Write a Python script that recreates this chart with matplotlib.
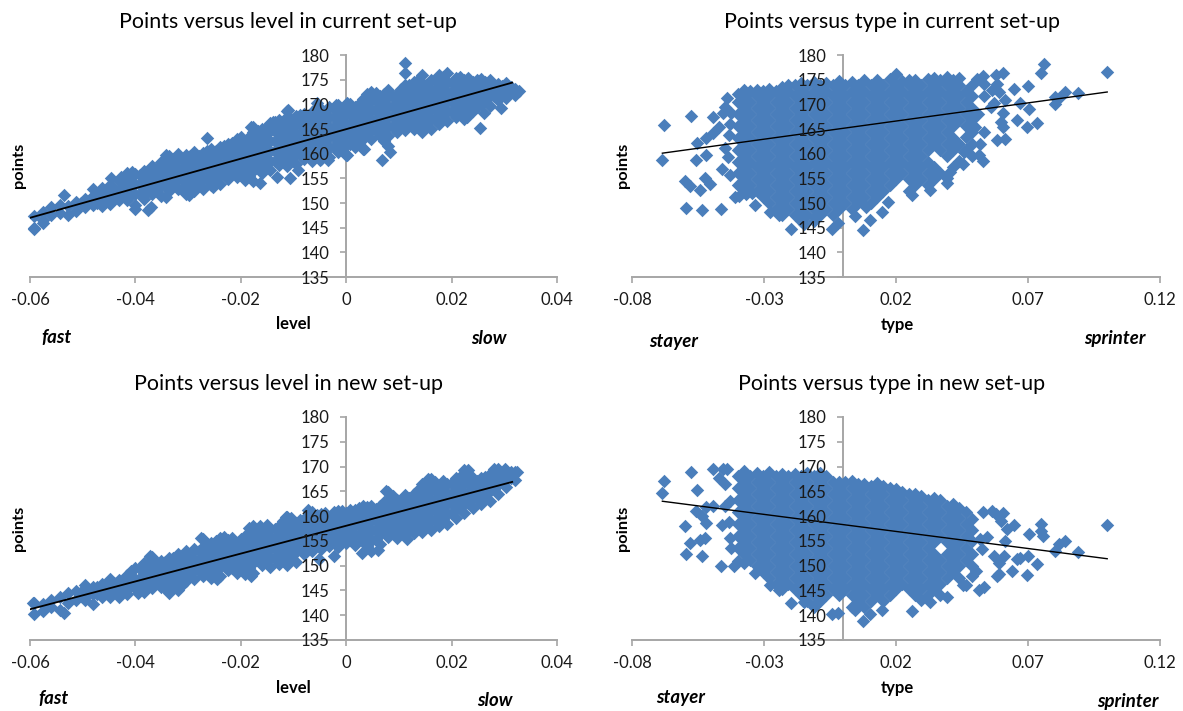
import matplotlib
matplotlib.use("Agg")
import matplotlib.pyplot as plt

W, H = 1183, 711
BLUE = "#4A7EBB"
GREY = "#A6A6A6"
plt.rcParams["font.family"] = ["Lato", "DejaVu Sans"]

y_ticks = [135, 140, 145, 150, 155, 160, 165, 170, 175, 180]
level_ticks = [-0.06, -0.04, -0.02, 0, 0.02, 0.04]
level_labels = ["-0.06", "-0.04", "-0.02", "0", "0.02", "0.04"]
type_ticks = [-0.08, -0.03, 0.02, 0.07, 0.12]
type_labels = ["-0.08", "-0.03", "0.02", "0.07", "0.12"]

# ---- Points versus level, current set-up: column x positions and the y values in each
lc_x = [-0.0592,-0.0576,-0.0560,-0.0544,-0.0528,-0.0512,-0.0496,-0.0480,-0.0464,-0.0448,-0.0432,-0.0416,-0.0400,
        -0.0384,-0.0368,-0.0352,-0.0336,-0.0320,-0.0304,-0.0288,-0.0272,-0.0256,-0.0240,-0.0224,-0.0208,-0.0192,
        -0.0176,-0.0160,-0.0144,-0.0128,-0.0112,-0.0096,-0.0080,-0.0064,-0.0048,-0.0032,-0.0016,0.0,0.0016,0.0032,
        0.0048,0.0064,0.0080,0.0096,0.0112,0.0128,0.0144,0.0160,0.0176,0.0192,0.0208,0.0224,0.0240,0.0256,0.0272,
        0.0288,0.0304,0.0320]
lc_y = [[145.0,147.3],[146.5,148.1],[147.5,149.2],[148.0,149.6],[147.6,149.4],[148.4,150.2],[149.2,150.9],
        [149.6,151.4,152.8],[149.4,151.2,153.0],[149.8,151.8,153.6],[150.6,152.5,154.4],[150.6,152.6,154.6,156.0],
        [149.6,151.8,153.8,155.8],[150.9,152.9,154.9,156.4],[151.8,153.9,155.9,157.6],[151.4,153.5,155.5,157.5,158.4],
        [152.5,154.5,156.5,158.5,159.6],[152.8,154.9,156.9,158.9,160.0],[151.8,153.8,155.8,157.8,159.8],
        [152.5,154.5,156.5,158.5,160.3],[152.8,154.8,156.8,158.8,160.2],[153.6,155.6,157.6,159.6,161.0],
        [153.8,155.9,157.9,159.9,161.4],[154.8,156.8,158.8,160.8,162.0],[155.2,157.2,159.2,161.2,162.9],
        [154.6,156.6,158.6,160.6,162.6],[154.4,156.4,158.4,160.4,162.4,164.4,165.4],[156.0,158.0,160.0,162.0,164.0,165.0],
        [156.6,158.6,160.6,162.6,164.6,166.2],[157.8,159.8,161.8,163.8,165.8,166.8],[157.4,159.4,161.4,163.4,165.4,167.4,168.6],
        [158.0,160.0,162.0,164.0,166.0,167.6],[159.0,161.0,163.0,165.0,167.0,168.0],[158.6,160.6,162.6,164.6,166.6,168.4],
        [159.0,161.0,163.0,165.0,167.0,169.0],[159.4,161.4,163.4,165.4,167.4,169.4],[160.4,162.4,164.4,166.4,168.4,169.8],
        [159.8,161.8,163.8,165.8,167.8,169.8],[161.4,163.4,165.4,167.4,169.4],[161.0,163.0,165.0,167.0,169.0,171.0],
        [163.0,165.0,167.0,169.0,171.0,172.6],[163.6,165.6,167.6,169.6,171.6],[161.6,163.6,165.6,167.6,169.6,171.6,172.9],
        [164.4,166.4,168.4,170.4,172.0],[164.8,166.8,168.8,170.8,172.8,174.0],[165.0,167.0,169.0,171.0,173.0,174.6],
        [164.4,166.4,168.4,170.4,172.4,174.4,175.9],[165.0,167.0,169.0,171.0,173.0,175.0],[166.0,168.0,170.0,172.0,174.0,176.0],
        [166.6,168.6,170.6,172.6,174.6,176.4],[167.4,169.4,171.4,173.4,175.4],[167.0,169.0,171.0,173.0,175.0],
        [168.6,170.6,172.6,174.6],[170.0,172.0,174.0,175.2],[169.6,171.6,173.6,174.9],[170.8,172.6,174.2],[171.2,173.0,174.3],
        [171.9,173.2]]
lc2_x = [-0.0504,-0.0488,-0.0472,-0.0456,-0.0440,-0.0424,-0.0408,-0.0392,-0.0376,-0.0360,-0.0344,-0.0328,-0.0312,-0.0296,
         -0.0280,-0.0264,-0.0248,-0.0232,-0.0216,-0.0200,-0.0184,-0.0168,-0.0152,-0.0136,-0.0120,-0.0104,-0.0088,-0.0072,
         -0.0056,-0.0040,-0.0024,-0.0008,0.0008,0.0024,0.0040,0.0056,0.0072,0.0088,0.0104,0.0120,0.0136,0.0152,0.0168,
         0.0184,0.0200,0.0216,0.0232,0.0248,0.0264,0.0280,0.0296,0.0312]
lc2_y = [[149.9],[150.4],[150.0,151.9],[150.5,152.4],[150.9,152.8],[151.5,153.4],[151.7,153.7,155.3],[151.9,153.9,155.7],
         [152.4,154.4,156.4],[152.6,154.6,156.6],[153.6,155.6,157.6],[153.7,155.7,157.7,159.0],[152.8,154.8,156.8,158.8],
         [153.5,155.5,157.5,159.5],[153.6,155.6,157.6,159.6],[154.6,156.6,158.6,160.6],[154.8,156.8,158.8,160.6],
         [155.8,157.8,159.8,161.6],[156.2,158.2,160.2,162.2],[155.6,157.6,159.6,161.6,163.4],[155.4,157.4,159.4,161.4,163.4],
         [157.0,159.0,161.0,163.0,164.6],[157.2,159.2,161.2,163.2,165.2],[158.6,160.6,162.6,164.6,166.4],
         [158.4,160.4,162.4,164.4,166.4],[159.0,161.0,163.0,165.0,167.0],[160.0,162.0,164.0,166.0,167.8],
         [159.6,161.6,163.6,165.6,167.6],[160.0,162.0,164.0,166.0,168.0,169.4],[160.4,162.4,164.4,166.4,168.4],
         [161.4,163.4,165.4,167.4,169.2],[160.8,162.8,164.8,166.8,168.8],[162.0,164.0,166.0,168.0,170.0],
         [162.0,164.0,166.0,168.0,170.0],[164.0,166.0,168.0,170.0,172.0],[164.6,166.6,168.6,170.6,172.2],
         [162.6,164.6,166.6,168.6,170.6,172.0],[165.4,167.4,169.4,171.4],[165.8,167.8,169.8,171.8,173.2],
         [166.0,168.0,170.0,172.0,174.0],[165.4,167.4,169.4,171.4,173.4,175.0],[166.0,168.0,170.0,172.0,174.0],
         [167.0,169.0,171.0,173.0,175.0],[167.6,169.6,171.6,173.6,175.6],[168.4,170.4,172.4,174.4],[168.0,170.0,172.0,174.0,175.6],
         [169.6,171.6,173.6,175.4],[169.4,171.4,173.4,175.0],[170.6,172.6,174.6],[171.6,173.4],[172.0,173.8],[172.4,173.6]]
# stand-alone marks
lc_px = [-0.0593,-0.0576,-0.0536,-0.0446,-0.0427,-0.0406,-0.0401,-0.0377,-0.0370,-0.0341,-0.0341,-0.0299,-0.0264,-0.0252,
         -0.0181,-0.0163,-0.0138,-0.0131,-0.0111,-0.0106,-0.0091,-0.0056,-0.0049,-0.0034,-0.0020,0.0001,0.0001,0.0034,
         0.0067,0.0084,0.0112,0.0112,0.0230,0.0253,0.0262,0.0293,0.0327]
lc_py = [144.8,146.0,151.6,155.0,155.3,156.3,148.7,148.5,149.2,159.7,151.2,151.6,163.1,153.3,
         165.5,154.0,166.5,155.3,168.8,155.0,156.7,170.2,158.7,158.7,169.9,170.2,159.7,161.0,
         158.7,160.4,178.3,176.3,167.5,165.3,168.2,169.2,172.8]
lc_tx = [-0.06, 0.0315]
lc_ty = [147.0, 174.4]

# ---- Points versus level, new set-up
ln_x = lc_x
ln_y = [[140.2,142.4],[140.8,142.2],[141.6,143.0],[141.0,143.6],[142.4,144.4],[143.0,144.8],[143.0,145.4,146.0],
        [142.2,144.2,145.6],[143.6,145.2,146.4],[143.6,145.6,147.4],[143.6,145.6,147.2],[144.2,146.2,148.2],
        [145.4,147.4,149.6],[144.6,146.6,148.6,150.6],[145.4,147.4,149.4,151.8],[145.6,147.6,149.6,151.0],
        [144.4,146.4,148.4,150.4,151.6],[145.0,147.0,149.0,151.0,152.4],[147.0,149.0,151.0,153.0],
        [147.4,149.4,151.4,153.4],[148.0,150.0,152.0,153.8,155.4],[147.6,149.6,151.6,153.6,154.6],
        [148.0,150.0,152.0,154.0,155.6],[149.2,151.2,153.2,155.2],[148.6,150.6,152.6,154.6],[148.4,150.4,152.4,154.4,156.0],
        [148.6,150.6,152.6,154.6,156.6,158.0],[150.2,152.2,154.2,156.2,157.2],[149.8,151.8,153.8,155.8,157.4],
        [150.4,152.4,154.4,156.4,158.0],[150.2,152.2,154.2,156.2,158.2,159.8],[150.8,152.8,154.8,156.8,158.6],
        [152.4,154.4,156.4,158.4,159.4],[153.0,155.0,157.0,159.0,160.8],[153.4,155.4,157.4,159.4,160.4],
        [154.0,156.0,158.0,159.8],[153.8,155.8,157.8,159.8,161.0],[154.6,156.6,158.6,160.6],[154.2,156.2,158.2,160.2,161.2],
        [155.0,157.0,159.0,161.0,162.0],[153.0,155.0,157.0,159.0,161.0,162.0],[154.4,156.4,158.4,160.4,162.0],
        [155.8,157.8,159.8,161.8,163.0,164.8],[155.6,157.6,159.6,161.6,163.2],[156.2,158.2,160.2,162.2,164.2],
        [156.6,158.6,160.6,162.6,164.4],[156.8,158.8,160.8,162.8,164.8,166.4],[157.2,159.2,161.2,163.2,165.2,167.4],
        [158.0,160.0,162.0,164.0,166.0],[158.4,160.4,162.4,164.4,166.4],[159.6,161.6,163.6,165.6,167.6],
        [160.6,162.6,164.6,166.6,168.6,169.4],[161.6,163.6,165.6,167.6],[162.4,164.4,166.4,167.6],[163.0,165.0,167.0,168.4],
        [164.4,166.4,168.4,169.6],[165.8,167.6,169.2],[167.2,168.9]]
ln2_x = lc2_x
ln2_y = [[143.9],[144.4],[144.2,145.6],[144.4,146.2],[145.0,146.6],[145.2,147.2],[145.8,147.8,149.0],[145.6,147.6,149.6],
         [146.4,148.4,150.4],[146.6,148.6,150.6],[145.4,147.4,149.4,150.8],[146.0,148.0,150.0,151.6],[146.0,148.0,150.0,152.0],
         [148.4,150.4,152.4],[149.0,151.0,153.0],[148.6,150.6,152.6,154.4],[149.0,151.0,153.0,155.0],[150.2,152.2,154.2,155.8],
         [149.6,151.6,153.6,155.6],[149.4,151.4,153.4,155.4],[149.6,151.6,153.6,155.6,157.6],[151.2,153.2,155.2,157.2],
         [150.8,152.8,154.8,156.8],[151.4,153.4,155.4,157.4],[151.2,153.2,155.2,157.2,159.0],[151.8,153.8,155.8,157.8,159.6],
         [153.4,155.4,157.4,159.2],[154.0,156.0,158.0,160.0],[154.4,156.4,158.4,160.2],[155.0,157.0,159.0,160.6],
         [154.8,156.8,158.8,160.8],[155.6,157.6,159.6,161.0],[155.2,157.2,159.2,161.2],[156.0,158.0,160.0,161.6],
         [154.0,156.0,158.0,160.0,161.8],[155.4,157.4,159.4,161.4],[156.8,158.8,160.8,162.8],[156.6,158.6,160.6,162.6,164.0],
         [157.2,159.2,161.2,163.2],[157.6,159.6,161.6,163.6],[157.8,159.8,161.8,163.8,165.2],[158.2,160.2,162.2,164.2,166.2],
         [159.0,161.0,163.0,165.0,166.8],[159.4,161.4,163.4,165.4,167.0],[160.6,162.6,164.6,166.6],[161.6,163.6,165.6,167.6],
         [162.6,164.6,166.6,168.4],[163.4,165.4,167.0],[164.0,166.0,167.8],[165.4,167.4,168.8],[166.8,168.4],[167.6,169.0]]
ln_px = [-0.0595,-0.0536,-0.0395,-0.0372,-0.0275,-0.0245,-0.0180,-0.0163,-0.0150,-0.0115,-0.0072,-0.0052,-0.0024,
         0.0030,0.0060,0.0075,0.0115,0.0155,0.0232,0.0280,0.0302,0.0325]
ln_py = [142.4,140.5,144.4,152.0,155.5,147.4,148.0,158.0,158.2,159.8,161.2,151.4,152.0,
         152.6,153.2,165.0,155.4,167.4,169.4,169.5,169.5,168.9]
ln_tx = [-0.06, 0.0315]
ln_ty = [141.2, 166.9]

# ---- Points versus type, current set-up
tc_x = [-0.0400,-0.0376,-0.0352,-0.0328,-0.0304,-0.0280,-0.0256,-0.0232,-0.0208,-0.0184,-0.0160,-0.0136,-0.0112,-0.0088,
        -0.0064,-0.0040,-0.0016,0.0008,0.0032,0.0056,0.0080,0.0104,0.0128,0.0152,0.0176,0.0200,0.0224,0.0248,0.0272,
        0.0296,0.0320,0.0344,0.0368,0.0392,0.0416,0.0440,0.0464,0.0488]
tc_y = [[153.6,156.0,158.4,160.8,163.2,165.6,168.0,170.4,172.0],
        [152.4,154.8,157.2,159.6,162.0,164.4,166.8,169.2,171.6,172.9],
        [153.6,156.0,158.4,160.8,163.2,165.6,168.0,170.4,172.8],
        [152.4,154.8,157.2,159.6,162.0,164.4,166.8,169.2,171.6,173.0],
        [151.2,153.6,156.0,158.4,160.8,163.2,165.6,168.0,170.4,172.8],
        [150.0,152.4,154.8,157.2,159.6,162.0,164.4,166.8,169.2,171.6,173.2],
        [148.8,151.2,153.6,156.0,158.4,160.8,163.2,165.6,168.0,170.4,172.8],
        [147.6,150.0,152.4,154.8,157.2,159.6,162.0,164.4,166.8,169.2,171.6,173.6],
        [148.8,151.2,153.6,156.0,158.4,160.8,163.2,165.6,168.0,170.4,172.8,174.0],
        [147.6,150.0,152.4,154.8,157.2,159.6,162.0,164.4,166.8,169.2,171.6,174.0],
        [146.4,148.8,151.2,153.6,156.0,158.4,160.8,163.2,165.6,168.0,170.4,172.8,174.4],
        [147.6,150.0,152.4,154.8,157.2,159.6,162.0,164.4,166.8,169.2,171.6,174.0],
        [146.4,148.8,151.2,153.6,156.0,158.4,160.8,163.2,165.6,168.0,170.4,172.8,174.6],
        [147.6,150.0,152.4,154.8,157.2,159.6,162.0,164.4,166.8,169.2,171.6,174.0],
        [148.8,151.2,153.6,156.0,158.4,160.8,163.2,165.6,168.0,170.4,172.8,174.4],
        [147.6,150.0,152.4,154.8,157.2,159.6,162.0,164.4,166.8,169.2,171.6,174.0],
        [148.8,151.2,153.6,156.0,158.4,160.8,163.2,165.6,168.0,170.4,172.8,174.8],
        [150.0,152.4,154.8,157.2,159.6,162.0,164.4,166.8,169.2,171.6,174.0],
        [148.8,151.2,153.6,156.0,158.4,160.8,163.2,165.6,168.0,170.4,172.8,174.6],
        [150.0,152.4,154.8,157.2,159.6,162.0,164.4,166.8,169.2,171.6,174.0],
        [151.2,153.6,156.0,158.4,160.8,163.2,165.6,168.0,170.4,172.8,175.0],
        [150.0,152.4,154.8,157.2,159.6,162.0,164.4,166.8,169.2,171.6,174.0],
        [151.2,153.6,156.0,158.4,160.8,163.2,165.6,168.0,170.4,172.8,175.0],
        [152.4,154.8,157.2,159.6,162.0,164.4,166.8,169.2,171.6,174.0],
        [153.6,156.0,158.4,160.8,163.2,165.6,168.0,170.4,172.8,175.2],
        [154.8,157.2,159.6,162.0,164.4,166.8,169.2,171.6,174.0,176.2],
        [156.0,158.4,160.8,163.2,165.6,168.0,170.4,172.8,174.8],
        [152.4,154.8,157.2,159.6,162.0,164.4,166.8,169.2,171.6,174.0,175.0],
        [153.6,156.0,158.4,160.8,163.2,165.6,168.0,170.4,172.8,175.0],
        [154.8,157.2,159.6,162.0,164.4,166.8,169.2,171.6,174.0],
        [153.6,156.0,158.4,160.8,163.2,165.6,168.0,170.4,172.8,175.2],
        [154.8,157.2,162.0,164.4,166.8,169.2,171.6,174.0,175.4],
        [156.0,160.8,163.2,165.6,168.0,170.4,172.8,175.0],
        [155.0,159.6,162.0,164.4,166.8,169.2,171.6,174.0,175.6],
        [157.2,160.8,163.2,165.6,168.0,170.4,172.8,175.0],
        [158.6,162.0,166.8,169.2,171.6,174.0,175.4],
        [160.8,163.4,165.6,168.0,170.4,172.8],
        [159.5,162.0,164.4,166.8,169.2,171.6,174.0]]
tc_px = [-0.0687,-0.0677,-0.0575,-0.0596,-0.0599,-0.0580,-0.0535,-0.0464,-0.0542,-0.0525,-0.0506,-0.0556,-0.0552,-0.0518,
         -0.0521,-0.0492,-0.0495,-0.0471,-0.0456,-0.0459,-0.0449,-0.0442,-0.0449,-0.0428,-0.0409,-0.0335,-0.0278,-0.0245,
         -0.0196,-0.0150,-0.0107,-0.0043,-0.0019,0.0045,0.0074,0.0102,0.0147,0.0085,0.0171,0.0261,0.0328,0.0392,0.0406,
         0.0452,0.0456,0.0531,0.0513,0.0520,0.0534,0.0499,0.0584,0.0613,0.0606,0.0599,0.0658,0.0698,0.0734,0.0705,0.0670,
         0.0701,0.0646,0.0606,0.0578,0.0531,0.0506,0.0751,0.0762,0.1000,0.0802,0.0802,0.0841,0.0819,0.0888,0.0570,0.0613,
         0.0606,0.0563,0.0534,0.0584,0.0510,0.0535,0.0560,0.0590,-0.0428,-0.0432,-0.0425,-0.0436,-0.0395,-0.0370,-0.0345]
tc_py = [158.8,165.9,167.6,149.0,154.4,153.4,148.5,148.7,152.6,155.0,153.8,158.7,162.2,159.7,
         163.1,164.1,167.5,165.5,168.2,156.8,161.2,171.3,169.5,155.6,151.2,149.6,148.1,147.5,
         144.8,145.8,147.2,144.8,146.0,147.3,144.5,146.5,148.1,149.2,150.2,151.6,152.6,154.1,156.3,
         158.0,160.4,158.5,159.7,161.9,164.4,165.5,162.7,162.9,165.5,166.5,166.9,165.5,166.3,169.0,170.2,
         173.7,173.1,176.3,175.9,175.7,175.1,176.3,178.2,176.5,170.1,171.4,172.4,171.2,172.2,170.2,170.9,
         168.2,172.9,174.2,174.2,168.0,171.6,169.4,172.6,166.0,163.8,168.2,159.4,151.4,151.8,152.0]
tc_tx = [-0.0685, 0.1]
tc_ty = [160.1, 172.5]

# ---- Points versus type, new set-up
tn_x = tc_x
tn_y = [[153.6,156.0,158.4,160.8,163.2,165.6,168.0],
        [152.4,154.8,157.2,159.6,162.0,164.4,166.8,169.2],
        [151.2,153.6,156.0,158.4,160.8,163.2,165.6,168.0],
        [150.0,152.4,154.8,157.2,159.6,162.0,164.4,166.8,168.6],
        [148.8,151.2,153.6,156.0,158.4,160.8,163.2,165.6,168.0],
        [147.6,150.0,152.4,154.8,157.2,159.6,162.0,164.4,166.8,169.0],
        [146.4,148.8,151.2,153.6,156.0,158.4,160.8,163.2,165.6,168.0],
        [145.2,147.6,150.0,152.4,154.8,157.2,159.6,162.0,164.4,166.8,168.4],
        [146.4,148.8,151.2,153.6,156.0,158.4,160.8,163.2,165.6,168.0],
        [145.2,147.6,150.0,152.4,154.8,157.2,159.6,162.0,164.4,166.8,168.4],
        [144.0,146.4,148.8,151.2,153.6,156.0,158.4,160.8,163.2,165.6,168.0],
        [142.8,145.2,147.6,150.0,152.4,154.8,157.2,159.6,162.0,164.4,166.8,168.6],
        [141.6,144.0,146.4,148.8,151.2,153.6,156.0,158.4,160.8,163.2,165.6,168.0],
        [142.8,145.2,147.6,150.0,152.4,154.8,157.2,159.6,162.0,164.4,166.8,168.8],
        [144.0,146.4,148.8,151.2,153.6,156.0,158.4,160.8,163.2,165.6,168.0],
        [145.2,147.6,150.0,152.4,154.8,157.2,159.6,162.0,164.4,166.8],
        [144.0,146.4,148.8,151.2,153.6,156.0,158.4,160.8,163.2,165.6,166.9],
        [145.2,147.6,150.0,152.4,154.8,157.2,159.6,162.0,164.4,166.8],
        [141.6,144.0,146.4,148.8,151.2,153.6,156.0,158.4,160.8,163.2,165.6,167.0],
        [142.8,145.2,147.6,150.0,152.4,154.8,157.2,159.6,162.0,164.4,166.4],
        [141.6,144.0,146.4,148.8,151.2,153.6,156.0,158.4,160.8,163.2,165.6,166.4],
        [142.8,145.2,147.6,150.0,152.4,154.8,157.2,159.6,162.0,164.4,166.0],
        [144.0,146.4,148.8,151.2,153.6,156.0,158.4,160.8,163.2,165.6,166.6],
        [142.8,145.2,147.6,150.0,152.4,154.8,157.2,159.6,162.0,164.4,166.0],
        [144.0,146.4,148.8,151.2,153.6,156.0,158.4,160.8,163.2,165.6],
        [145.2,147.6,150.0,152.4,154.8,157.2,159.6,162.0,164.4,165.5],
        [146.4,148.8,151.2,153.6,156.0,158.4,160.8,163.2,164.8],
        [145.2,147.6,150.0,152.4,154.8,157.2,159.6,162.0,164.4],
        [144.0,146.4,148.8,151.2,153.6,156.0,158.4,160.8,163.2,164.4],
        [143.0,145.2,147.6,150.0,152.4,154.8,157.2,159.6,162.0,164.0],
        [144.0,146.4,148.8,151.2,153.6,156.0,158.4,160.8,163.2],
        [145.2,147.6,150.0,152.4,154.8,157.2,159.6,162.0,163.6],
        [144.0,146.4,148.8,151.2,156.0,158.4,160.8,163.2],
        [143.6,147.6,150.0,152.4,154.8,157.2,159.6,162.0],
        [148.8,151.2,153.6,156.0,158.4,160.8,162.4],
        [147.6,150.0,152.4,154.8,157.2,159.6,161.6],
        [146.0,151.2,153.6,156.0,158.4,160.8],
        [148.0,150.0,152.4,155.0,157.2,159.4]]
tn_px = [-0.0687,-0.0677,-0.0575,-0.0596,-0.0599,-0.0580,-0.0552,-0.0535,-0.0464,-0.0542,-0.0525,-0.0556,-0.0535,-0.0518,
         -0.0521,-0.0492,-0.0495,-0.0471,-0.0456,-0.0459,-0.0449,-0.0442,-0.0449,-0.0428,-0.0415,-0.0335,-0.0278,-0.0245,
         -0.0196,-0.0150,-0.0107,-0.0043,-0.0019,0.0045,0.0074,0.0102,0.0147,0.0261,0.0328,0.0455,0.0513,0.0534,0.0520,
         0.0531,0.0563,0.0578,0.0606,0.0599,0.0613,0.0590,0.0584,0.0640,0.0670,0.0698,0.0701,0.0705,0.0734,0.0748,0.0756,
         0.0751,0.0802,0.0819,0.0841,0.0888,0.1000,0.0646,0.0610,0.0660,0.0502,0.0525,0.0545,0.0570,0.0590,0.0620,
         -0.0428,-0.0432,-0.0425,-0.0400,-0.0375]
tn_py = [164.6,167.0,168.9,152.4,158.0,154.6,165.2,152.0,150.0,155.2,155.6,161.0,160.0,161.8,
         158.6,162.0,169.6,167.6,169.6,158.2,162.0,169.6,166.4,155.6,150.0,148.6,146.0,145.0,
         142.4,142.6,142.0,140.2,140.4,141.0,138.8,140.2,141.0,140.8,142.6,146.0,145.0,145.6,155.4,
         160.8,161.0,160.4,160.6,159.0,155.0,148.4,148.0,149.0,151.6,148.2,152.0,156.4,150.4,157.0,156.0,
         158.4,153.0,154.4,155.0,152.8,158.2,158.2,152.0,151.4,149.0,153.4,155.8,152.0,150.6,157.4,
         163.0,158.8,153.6,151.0,150.6]
tn_tx = [-0.0685, 0.1]
tn_ty = [163.0, 151.4]


def flatten(*groups):
    fx, fy = [], []
    for xs, cols in groups:
        for x, col in zip(xs, cols):
            for y in col:
                fx.append(x)
                fy.append(y)
    return fx, fy


def panel(box, xlim, xticks, xlabels, pts, extra_x, extra_y, tx, ty, lw):
    left, right, top, bottom = box
    rect = [left / W, 1 - bottom / H, (right - left) / W, (bottom - top) / H]
    ax = plt.gcf().add_axes(rect, zorder=1)
    ax.patch.set_alpha(0)
    ax.set_xlim(*xlim)
    ax.set_ylim(135, 180)
    x, y = pts
    ax.scatter(list(x) + list(extra_x), list(y) + list(extra_y), marker="D", s=47, c=BLUE,
               linewidths=0, zorder=2, clip_on=False)
    ax.plot(tx, ty, color="black", lw=lw, zorder=3)
    for s in ("top", "right"):
        ax.spines[s].set_visible(False)
    for s in ("left", "bottom"):
        ax.spines[s].set_color(GREY)
        ax.spines[s].set_linewidth(1.4)
        ax.spines[s].set_zorder(1)
    ax.spines["left"].set_position(("data", 0))
    ax.set_xticks(xticks)
    ax.set_xticklabels(xlabels)
    ax.set_yticks(y_ticks)
    ax.tick_params(axis="both", colors=GREY, labelcolor="#1a1a1a", labelsize=12, length=4, width=1.2)
    ax.tick_params(axis="x", pad=7)
    ax.tick_params(axis="y", labelleft=False)

    # the y tick labels lie over the marks, so they go on a clear axes in front
    front = plt.gcf().add_axes(rect, zorder=2, sharey=ax)
    front.patch.set_alpha(0)
    front.set_xlim(*xlim)
    for s in front.spines.values():
        s.set_visible(False)
    front.spines["left"].set_position(("data", 0))
    front.set_xticks([])
    front.tick_params(axis="y", length=0, labelsize=12, labelcolor="#1a1a1a", pad=12, labelleft=True)
    return ax


def label(xp, yp, s, **kw):
    plt.gcf().text(xp / W, 1 - yp / H, s, ha="center", va="center", color="black", **kw)


fig = plt.figure(figsize=(W / 100, H / 100), dpi=100)

panel((30, 557, 55, 277), (-0.06, 0.04), level_ticks, level_labels, flatten((lc_x, lc_y), (lc2_x, lc2_y)), lc_px, lc_py, lc_tx, lc_ty, 1.3)
panel((632, 1160, 55, 277), (-0.08, 0.12), type_ticks, type_labels, flatten((tc_x, tc_y)), tc_px, tc_py, tc_tx, tc_ty, 1.0)
panel((30, 557, 417, 640), (-0.06, 0.04), level_ticks, level_labels, flatten((ln_x, ln_y), (ln2_x, ln2_y)), ln_px, ln_py, ln_tx, ln_ty, 1.3)
panel((632, 1160, 417, 640), (-0.08, 0.12), type_ticks, type_labels, flatten((tn_x, tn_y)), tn_px, tn_py, tn_tx, tn_ty, 1.0)

for xp, yp, s in [(288, 22, "Points versus level in current set-up"), (892, 22, "Points versus type in current set-up"),
                  (288, 384, "Points versus level in new set-up"), (892, 384, "Points versus type in new set-up")]:
    label(xp, yp, s, fontsize=15.4)
for xp, yp, s in [(293, 324, "level"), (897, 325, "type"), (293, 688, "level"), (897, 688, "type")]:
    label(xp, yp, s, fontsize=12, fontweight="bold")
for xp, yp in [(19, 165), (623, 165), (19, 528), (623, 528)]:
    label(xp, yp, "points", fontsize=11.8, fontweight="bold", rotation=90)
for xp, yp, s in [(56, 337, "fast"), (489, 338, "slow"), (674, 341, "stayer"), (1115, 339, "sprinter"),
                  (53, 699, "fast"), (495, 701, "slow"), (681, 698, "stayer"), (1128, 701, "sprinter")]:
    label(xp, yp, s, fontsize=13.4, fontweight="bold", fontstyle="italic")

fig.savefig("out.png", dpi=100)
